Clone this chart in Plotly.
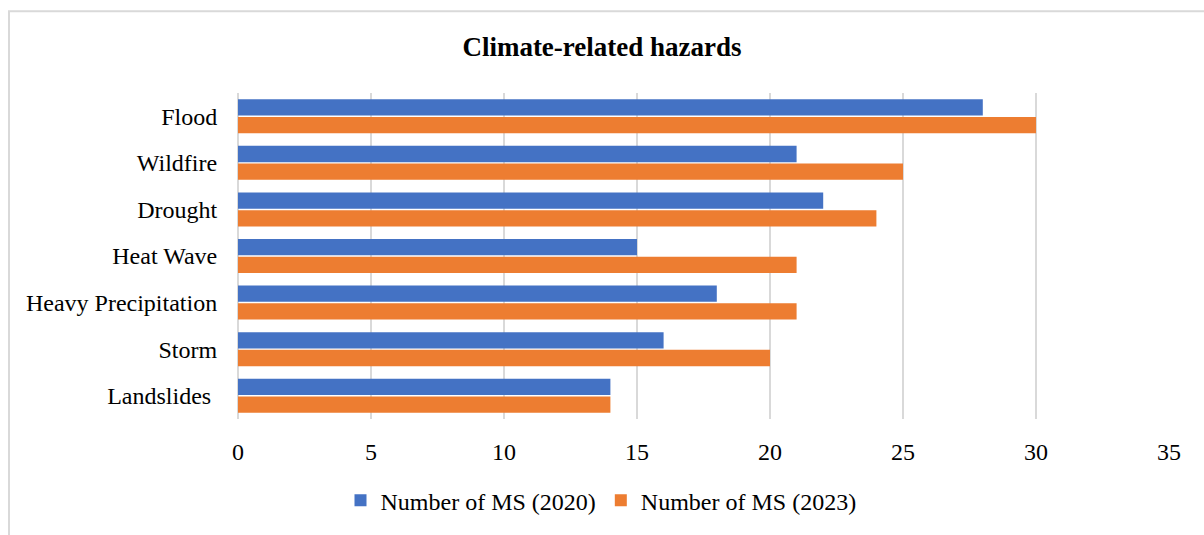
import plotly.graph_objects as go

categories = ["Flood", "Wildfire", "Drought", "Heat Wave", "Heavy Precipitation", "Storm", "Landslides "]
ms_2020 = [28, 21, 22, 15, 18, 16, 14]
ms_2023 = [30, 25, 24, 21, 21, 20, 14]
series_names = ["Number of MS (2020)", "Number of MS (2023)"]
x_ticks = [0, 5, 10, 15, 20, 25, 30, 35]

FONT = "Liberation Serif, Times New Roman, serif"

fig = go.Figure()
fig.add_trace(go.Bar(y=categories, x=ms_2020, orientation="h", name=series_names[0],
                     marker=dict(color="#4472C4", line=dict(width=0))))
fig.add_trace(go.Bar(y=categories, x=ms_2023, orientation="h", name=series_names[1],
                     marker=dict(color="#ED7D31", line=dict(width=0))))

L, R, T, B = 238, 35, 93, 111
W, H = 1204, 535
pw, ph = W - L - R, H - T - B

def px_x(px):
    return (px - L) / pw

def px_y(py):
    return (H - B - py) / ph

fig.update_layout(
    width=W, height=H,
    margin=dict(l=L, r=R, t=T, b=B),
    paper_bgcolor="white", plot_bgcolor="white",
    font=dict(family=FONT, size=24, color="#000000"),
    title=dict(text="<b>Climate-related hazards</b>", x=0.5, xanchor="center",
               y=1 - 47 / H, yanchor="middle", font=dict(family=FONT, size=27, color="#000000")),
    barmode="group", bargap=0.24, bargroupgap=0.08,
    xaxis=dict(range=[0, 35], tickvals=x_ticks, showgrid=True, gridcolor="#D9D9D9", gridwidth=1.5,
               zeroline=True, zerolinecolor="#D9D9D9", zerolinewidth=1.5, showline=False,
               ticks="outside", ticklen=11, tickcolor="rgba(0,0,0,0)",
               tickfont=dict(family=FONT, size=24, color="#000000"), fixedrange=True),
    yaxis=dict(autorange="reversed", showgrid=False, showline=False,
               ticks="outside", ticklen=15, tickcolor="rgba(0,0,0,0)",
               tickfont=dict(family=FONT, size=24, color="#000000"), fixedrange=True),
    legend=dict(orientation="h", x=px_x(601), xanchor="center", y=px_y(507), yanchor="middle",
                font=dict(family=FONT, size=24, color="#000000"), traceorder="normal",
                itemwidth=30, bgcolor="rgba(0,0,0,0)"),
    shapes=[dict(type="rect", xref="paper", yref="paper",
                 x0=px_x(9), x1=px_x(1215), y0=px_y(545), y1=px_y(10),
                 line=dict(color="#D9D9D9", width=2), fillcolor="rgba(0,0,0,0)", layer="below")],
)

fig.write_html("out.html", config={"displayModeBar": False},
               post_script="document.body.style.margin='0';")
